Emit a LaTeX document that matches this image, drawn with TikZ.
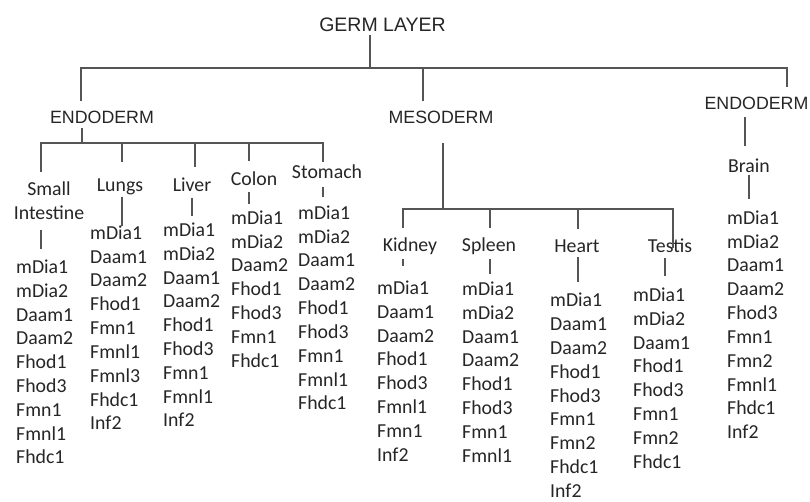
\documentclass[tikz,border=0pt]{standalone}
\usepackage{fontspec}
\newfontfamily\carl{Carlito}
\newfontfamily\arialf{Liberation Sans}
\definecolor{txt}{HTML}{262626}
\definecolor{lnc}{HTML}{555555}
\newcommand{\itemcol}[4]{%
  \foreach \nm [count=\i] in {#4} {\node[itm] (#1\i) at (#2,{#3+(\i-1)*23.8}) {\nm};}}
\begin{document}
\begin{tikzpicture}[x=1pt,y=-1pt,
  itm/.style={anchor=base west,inner sep=0pt,font=\carl\fontsize{19.8}{23.8}\selectfont,text=txt},
  lab/.style={anchor=base,inner sep=0pt,font=\carl\fontsize{19.8}{23.8}\selectfont,text=txt},
  layer/.style={anchor=base,inner sep=0pt,font=\arialf\fontsize{17.8}{20}\selectfont,text=txt},
  ttl/.style={anchor=base,inner sep=0pt,font=\arialf\fontsize{19.5}{22}\selectfont,text=txt},
  ln/.style={draw=lnc,line width=1.8pt}]
\useasboundingbox (0,0) rectangle (810,502);
\fill[white] (0,0) rectangle (810,502);

% top levels
\node[ttl] (germ) at (382.5,32) {GERM LAYER};
\node[layer] (endoL) at (102,124) {ENDODERM};
\node[layer] (meso) at (441,124) {MESODERM};
\node[layer] (endoR) at (756.5,110) {ENDODERM};

% labels
\node[lab,align=center,anchor=north] (small) at (49,182) {Small\\Intestine};
\node[lab] (lungs) at (120,192) {Lungs};
\node[lab] (liver) at (192,192) {Liver};
\node[lab] (colon) at (254,186) {Colon};
\node[lab] (stomach) at (327,179) {Stomach};
\node[lab] (kidney) at (410,252) {Kidney};
\node[lab] (spleen) at (489,252) {Spleen};
\node[lab] (heart) at (577,253) {Heart};
\node[lab] (testis) at (670,253) {Testis};
\node[lab] (brain) at (749,173) {Brain};

% item columns
\itemcol{si}{16}{273.4}{mDia1,mDia2,Daam1,Daam2,Fhod1,Fhod3,Fmn1,Fmnl1,Fhdc1}
\itemcol{lu}{90}{239.4}{mDia1,Daam1,Daam2,Fhod1,Fmn1,Fmnl1,Fmnl3,Fhdc1,Inf2}
\itemcol{li}{163}{236.4}{mDia1,mDia2,Daam1,Daam2,Fhod1,Fhod3,Fmn1,Fmnl1,Inf2}
\itemcol{co}{231}{224.4}{mDia1,mDia2,Daam2,Fhod1,Fhod3,Fmn1,Fhdc1}
\itemcol{st}{298}{219.4}{mDia1,mDia2,Daam1,Daam2,Fhod1,Fhod3,Fmn1,Fmnl1,Fhdc1}
\itemcol{ki}{377}{294.4}{mDia1,Daam1,Daam2,Fhod1,Fhod3,Fmnl1,Fmn1,Inf2}
\itemcol{sp}{462}{295.4}{mDia1,mDia2,Daam1,Daam2,Fhod1,Fhod3,Fmn1,Fmnl1}
\itemcol{he}{550}{306.8}{mDia1,Daam1,Daam2,Fhod1,Fhod3,Fmn1,Fmn2,Fhdc1,Inf2}
\itemcol{te}{633}{301.4}{mDia1,mDia2,Daam1,Fhod1,Fhod3,Fmn1,Fmn2,Fhdc1}
\itemcol{br}{727}{224.4}{mDia1,mDia2,Daam1,Daam2,Fhod3,Fmn1,Fmn2,Fmnl1,Fhdc1,Inf2}

% junction coordinates
\coordinate (b0) at (81,68);
\coordinate (b1) at (787,68);
\coordinate (bg) at (370,68);
\coordinate (bm) at (423,68);
\coordinate (e0) at (41,143);
\coordinate (e1) at (323,143);
\coordinate (ej) at (82,143);
\coordinate (elu) at (122,143);
\coordinate (eli) at (195,143);
\coordinate (eco) at (249,143);
\coordinate (m0) at (403,209);
\coordinate (m1) at (673,209);
\coordinate (mj) at (443,209);
\coordinate (msp) at (490,209);
\coordinate (mhe) at (578,209);
\coordinate (rj) at (745,110);

% main tree
\draw[ln] ([yshift=-3pt]germ.south -| bg) -- (bg);
\draw[ln] ([yshift=10pt]endoL.north -| b0) -- (b0) -- (b1) -- ([yshift=10pt]endoR.north -| b1);
\draw[ln] (bm) -- ([yshift=10pt]meso.north -| bm);

% endoderm subtree
\draw[ln] ([yshift=-4pt]endoL.south -| ej) -- (ej);
\draw[ln] ([yshift=10pt]small.north -| e0) -- (e0) -- (e1) -- ([yshift=3pt]stomach.north -| e1);
\draw[ln] (elu) -- ([yshift=17pt]lungs.north -| elu);
\draw[ln] (eli) -- ([yshift=11pt]liver.north -| eli);
\draw[ln] (eco) -- ([yshift=11pt]colon.north -| eco);
\draw[ln] ([yshift=-10pt]small.south -| e0) -- ([yshift=11pt]si1.north -| e0);
\draw[ln] ([yshift=-1pt]lungs.south -| elu) -- (lu1.north -| elu);
\draw[ln] ([yshift=-6pt]liver.south) -- ([yshift=7pt]liver.south |- li1.north);
\draw[ln] ([yshift=-6pt]colon.south -| eco) -- ([yshift=6.5pt]co1.north -| eco);
\draw[ln] ([yshift=-8pt]stomach.south -| e1) -- ([yshift=8.6pt]st1.north -| e1);

% mesoderm subtree
\draw[ln] ([yshift=-19pt]meso.south -| mj) -- (mj);
\draw[ln] ([yshift=10pt]kidney.north -| m0) -- (m0) -- (m1) -- ([yshift=-9pt]testis.north -| m1);
\draw[ln] (msp) -- ([yshift=10pt]spleen.north -| msp);
\draw[ln] (mhe) -- ([yshift=11pt]heart.north -| mhe);
\draw[ln] ([yshift=-4pt]kidney.south -| m0) -- ([yshift=14.6pt]ki1.north -| m0);
\draw[ln] ([yshift=-4pt]spleen.south -| msp) -- ([yshift=7.6pt]sp1.north -| msp);
\draw[ln] ([yshift=-4pt]heart.south -| mhe) -- ([yshift=11pt]he1.north -| mhe);
\draw[ln] ([yshift=-5pt]testis.south) ++(-5pt,0) -- ([yshift=11.6pt,xshift=-5pt]testis.south |- te1.north);

% right endoderm
\draw[ln] ([yshift=-7pt]endoR.south -| rj) -- ([yshift=13pt]brain.north -| rj);
\draw[ln] ([yshift=-2pt]brain.south) -- ([yshift=11.6pt]brain.south |- br1.north);
\end{tikzpicture}
\end{document}
